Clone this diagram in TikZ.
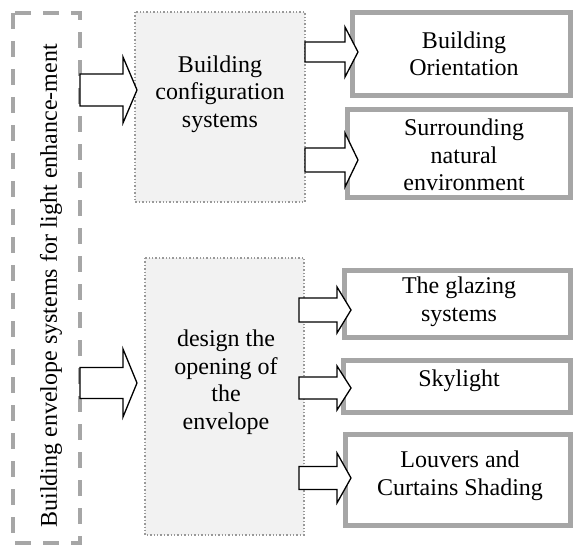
\documentclass[tikz,border=0pt]{standalone}
\usepackage{fontspec}
\setmainfont{Liberation Serif}
\begin{document}
\begin{tikzpicture}[x=1pt,y=-1pt,
  outerbox/.style={draw=black!35,line width=3.5pt,dash pattern=on 16pt off 12pt},
  groupbox/.style={draw=black!40,fill=black!5,line width=1.4pt,dotted},
  itembox/.style={draw=black!35,line width=5pt},
  barr/.style={draw=black,fill=white,line width=1.3pt,line join=miter},
  txt/.style={font=\fontsize{24}{27.5}\selectfont,align=center,inner sep=0pt}]
\useasboundingbox (0,0) rectangle (576,548);
% outer dashed frame
\draw[outerbox] (13,13) rectangle (80,543);
\node[txt,rotate=90] (title) at (51,286) {Building envelope systems for light enhance-ment};
% group boxes
\draw[groupbox] (135,12) rectangle (305,202);
\node[txt] (g1) at (220,94) {Building\\configuration\\systems};
\draw[groupbox] (145,258) rectangle (304,535);
\node[txt] (g2) at (226,382) {design the\\opening of\\the\\envelope};
% item boxes
\draw[itembox] (352.5,12.5) rectangle (570.5,95.5);
\node[txt] (i1) at (464,54) {Building\\Orientation};
\draw[itembox] (347.5,109.5) rectangle (570.5,197.5);
\node[txt] (i2) at (464,155) {Surrounding\\natural\\environment};
\draw[itembox] (344.5,270.5) rectangle (570.5,337.5);
\node[txt] (i3) at (459,302) {The glazing\\systems};
\draw[itembox] (343.5,360.5) rectangle (570.5,412.5);
\node[txt] (i4) at (459,381) {Skylight};
\draw[itembox] (345.5,434.5) rectangle (570.5,525.5);
\node[txt] (i5) at (460,476) {Louvers and\\Curtains Shading};
% block arrows
\newcommand\barrow[6]{\draw[barr] (#1,#4-#5) -- (#2,#4-#5) -- (#2,#4-#6) -- (#3,#4) -- (#2,#4+#6) -- (#2,#4+#5) -- (#1,#4+#5) -- cycle;}
\barrow{80}{123}{137}{90}{16}{33}
\barrow{80}{123}{137}{383}{15.5}{34}
\barrow{305}{345}{358}{52}{10}{25}
\barrow{305}{345}{358}{160}{12}{27}
\barrow{299}{337}{351}{310}{12}{23}
\barrow{299}{337}{351}{388}{11}{22}
\barrow{299}{337}{351}{478}{11.5}{25}
\end{tikzpicture}
\end{document}
